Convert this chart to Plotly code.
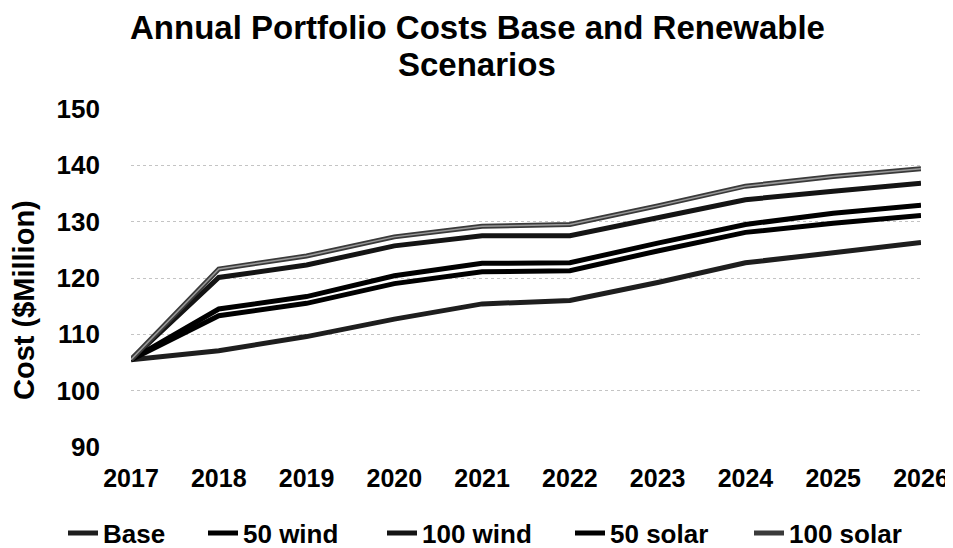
import plotly.graph_objects as go

years = [2017, 2018, 2019, 2020, 2021, 2022, 2023, 2024, 2025, 2026]
base = [105.5, 107.1, 109.6, 112.7, 115.4, 116.0, 119.2, 122.7, 124.5, 126.3]
wind50 = [105.5, 113.3, 115.5, 119.0, 121.1, 121.3, 124.8, 128.1, 129.7, 131.1]
wind100 = [105.5, 120.1, 122.3, 125.7, 127.5, 127.5, 130.7, 133.9, 135.4, 136.8]
solar50 = [105.5, 114.5, 116.7, 120.4, 122.6, 122.7, 126.2, 129.5, 131.5, 132.9]
solar100 = [105.5, 121.6, 123.9, 127.3, 129.2, 129.5, 132.8, 136.3, 138.0, 139.4]
y_ticks = [90, 100, 110, 120, 130, 140, 150]

FONT = "Liberation Sans, Arial, sans-serif"

series = [
    ("Base", base, "#1e1e1e"),
    ("50 wind", wind50, "#000000"),
    ("100 wind", wind100, "#141414"),
    ("50 solar", solar50, "#000000"),
    ("100 solar", solar100, "#3a3a3a"),
]

# page has an 8px body margin, so the figure is 945x540 and offset by 8px
W, H = 945, 540
PL, PR, PT, PB = 123, 913, 101, 439
def py(px):
    return (PB - px) / (PB - PT)

# legend entry left edges (figure px)
legend_x = [55, 195, 374, 562, 741]
legend_ids = ["legend", "legend2", "legend3", "legend4", "legend5"]

fig = go.Figure()
for (name, vals, col), lid in zip(series, legend_ids):
    fig.add_trace(go.Scatter(x=years, y=vals, mode="lines", name="<b>%s</b>" % name,
                             legend=lid, line=dict(color=col, width=5)))
# lighter core for the 100 solar line (scan look)
fig.add_trace(go.Scatter(x=years, y=solar100, mode="lines", showlegend=False,
                         hoverinfo="skip", line=dict(color="#9a9a9a", width=1.5)))

legend_common = dict(orientation="h", xref="container", yref="paper",
                     xanchor="left", y=py(525), yanchor="middle",
                     font=dict(size=26, family=FONT, color="#000"),
                     bgcolor="rgba(0,0,0,0)", itemwidth=30)
legends = {lid: dict(legend_common, x=lx / W) for lid, lx in zip(legend_ids, legend_x)}

fig.update_layout(
    width=W, height=H,
    paper_bgcolor="white", plot_bgcolor="white",
    margin=dict(l=PL, r=W - PR, t=PT, b=H - PB, autoexpand=False),
    font=dict(family=FONT, color="#000000", size=24),
    showlegend=True,
    annotations=[
        dict(text="<b>Annual Portfolio Costs Base and Renewable</b>",
             xref="paper", yref="paper", x=0.5, y=py(19), xanchor="center",
             yanchor="middle", xshift=-49, showarrow=False,
             font=dict(size=33, family=FONT, color="#000")),
        dict(text="<b>Scenarios</b>",
             xref="paper", yref="paper", x=0.5, y=py(56), xanchor="center",
             yanchor="middle", xshift=-49, showarrow=False,
             font=dict(size=33, family=FONT, color="#000")),
        dict(text="<b>Cost ($Million)</b>", textangle=-90,
             xref="paper", yref="paper", x=0, y=0.5,
             xanchor="center", yanchor="middle",
             xshift=-107, yshift=-22, showarrow=False,
             font=dict(size=29, family=FONT, color="#000")),
    ],
    **legends,
)
fig.update_xaxes(range=[2017, 2026], tickvals=years,
                 ticktext=["<b>%d</b>" % y for y in years],
                 showgrid=False, zeroline=False, showline=False,
                 ticks="", ticklabelstandoff=14,
                 tickfont=dict(size=25, family=FONT, color="#000"))
fig.update_yaxes(range=[90, 150], tickvals=y_ticks,
                 ticktext=["<b>%d</b>" % v for v in y_ticks],
                 showgrid=True, gridcolor="#c4c4c4", griddash="dot", gridwidth=1,
                 zeroline=False, showline=False, ticks="",
                 ticklabelstandoff=30,
                 tickfont=dict(size=26, family=FONT, color="#000"))

fig.write_html("out.html")
